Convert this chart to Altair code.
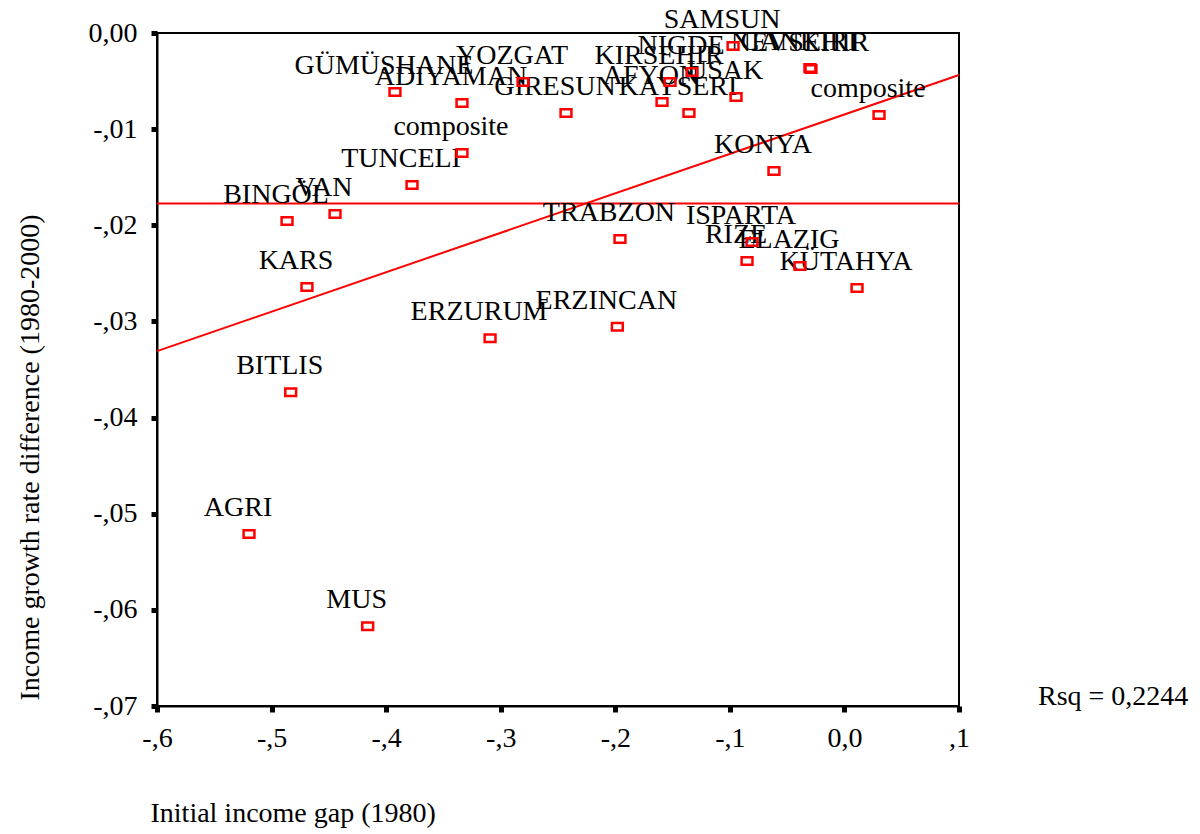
import altair as alt
import pandas as pd

# Provinces: initial income gap (1980) vs. income growth rate difference (1980-2000)
provinces = [
    "SAMSUN", "NEVSEHIR", "CANKIRI", "NIGDE", "KIRSEHIR", "AFYON", "USAK",
    "KAYSERI", "GIRESUN", "YOZGAT", "ADIYAMAN", "GÜMÜSHANE", "composite",
    "TUNCELI", "VAN", "BINGÖL", "KARS", "BITLIS", "AGRI", "MUS", "ERZURUM",
    "ERZINCAN", "TRABZON", "ISPARTA", "RIZE", "ELAZIG", "KÜTAHYA", "KONYA",
    "composite",
]
income_gap = [
    -0.0972, -0.0292, -0.0301, -0.1330, -0.1522, -0.1592, -0.0946,
    -0.1357, -0.2430, -0.2805, -0.3338, -0.3923, -0.3338,
    -0.3774, -0.4446, -0.4865, -0.4691, -0.4833, -0.5197, -0.4161, -0.3093,
    -0.1982, -0.1959, -0.0807, -0.0850, -0.0388, 0.0110, -0.0615,
    0.0302,
]
growth_diff = [
    -0.00135, -0.00374, -0.00364, -0.00406, -0.00510, -0.00718, -0.00666,
    -0.00832, -0.00832, -0.00510, -0.00728, -0.00614, -0.01248,
    -0.01581, -0.01883, -0.01956, -0.02642, -0.03737, -0.05210, -0.06170, -0.03176,
    -0.03055, -0.02143, -0.02174, -0.02372, -0.02424, -0.02652, -0.01435,
    -0.00853,
]

x_ticks = [-0.6, -0.5, -0.4, -0.3, -0.2, -0.1, 0.0, 0.1]
y_ticks = [0.0, -0.01, -0.02, -0.03, -0.04, -0.05, -0.06, -0.07]
rsq_text = "Rsq = 0,2244"

df = pd.DataFrame({"label": provinces, "gap": income_gap, "growth": growth_diff})

FONT = "Liberation Serif"
RED = "#ff0000"

# Decimal-comma tick labels without the leading zero: -,6 ... 0,0 ,1
x_label_expr = (
    "datum.value == 0 ? '0,0' : "
    "(datum.value < 0 ? '-,' : ',') + format(round(abs(datum.value) * 10), 'd')"
)
# 0,00  -,01 ... -,07
y_label_expr = (
    "datum.value == 0 ? '0,00' : "
    "'-,' + format(round(abs(datum.value) * 100), '02d')"
)

x_enc = alt.X(
    "gap:Q",
    scale=alt.Scale(domain=[-0.6, 0.1], nice=False, zero=False),
    axis=alt.Axis(
        values=x_ticks,
        labelExpr=x_label_expr,
        labelFlush=False,
        title="Initial income gap (1980)",
        titleX=-7,
        titleY=115,
        titleAlign="left",
        titleBaseline="alphabetic",
        labelPadding=12,
    ),
)
y_enc = alt.Y(
    "growth:Q",
    scale=alt.Scale(domain=[-0.07, 0.0], nice=False, zero=False),
    axis=alt.Axis(
        values=y_ticks,
        labelExpr=y_label_expr,
        labelFlush=False,
        title="Income growth rate difference (1980-2000)",
        titleX=-119,
        titleY=424,
        titleAlign="center",
        titleBaseline="alphabetic",
        labelPadding=14,
    ),
)

base = alt.Chart(df)

# Horizontal line at the mean of the growth difference
mean_line = base.mark_rule(color=RED, strokeWidth=2).encode(y="mean(growth):Q")

# Linear fit over the full x range
fit_line = (
    base.transform_regression("gap", "growth", extent=[-0.6, 0.1])
    .mark_line(color=RED, strokeWidth=2)
    .encode(x=x_enc, y=y_enc)
)

labels = base.mark_text(
    font=FONT, fontSize=28, color="#000000", align="center",
    baseline="alphabetic", dx=-11, dy=-18,
).encode(x="gap:Q", y="growth:Q", text="label:N")

points = base.mark_point(
    shape="M-1.45,-1H1.45V1H-1.45Z", size=56, filled=False,
    color=RED, strokeWidth=2.5, opacity=1,
).encode(x="gap:Q", y="growth:Q")

rsq = alt.Chart(pd.DataFrame({"t": [rsq_text]})).mark_text(
    font=FONT, fontSize=28, color="#000000", align="left", baseline="middle",
).encode(x=alt.value(881), y=alt.value(664), text="t:N")

chart = (
    alt.layer(fit_line, mean_line, labels, points, rsq)
    .properties(
        width=802,
        height=673,
        autosize=alt.AutoSizeParams(type="none"),
        padding={"left": 157, "top": 33, "right": 241, "bottom": 128},
        background="#ffffff",
    )
    .configure_view(stroke="#000000", strokeWidth=2)
    .configure_axis(
        grid=False,
        domainColor="#000000",
        domainWidth=2,
        tickColor="#000000",
        tickSize=6,
        tickWidth=5,
        labelFont=FONT,
        labelFontSize=28,
        labelColor="#000000",
        titleFont=FONT,
        titleFontSize=28,
        titleFontWeight="normal",
        titleColor="#000000",
    )
)

chart.save("out.html", embed_options={"renderer": "svg", "actions": False})
